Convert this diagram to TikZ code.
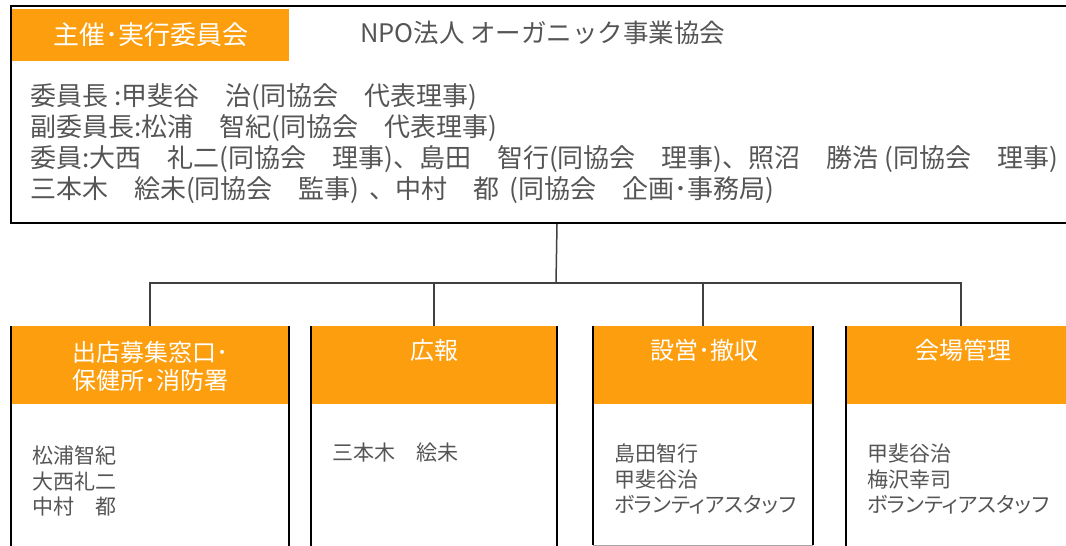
\documentclass[tikz,border=0pt]{standalone}
\usepackage{fontspec}
\setmainfont{Noto Sans CJK JP}
\newfontfamily\kanaprop[RawFeature=+palt]{Noto Sans CJK JP}
\definecolor{orng}{RGB}{253,158,14}
\definecolor{txt}{RGB}{85,85,85}
\definecolor{connc}{RGB}{64,64,64}
\tikzset{
  hdrbox/.style={fill=orng, inner sep=0pt, text=white},
  lbl/.style={text=txt, inner sep=0pt, anchor=west, font=\fontsize{26}{30}\selectfont},
  item/.style={text=txt, inner sep=0pt, anchor=west, align=left, font=\fontsize{21}{25.5}\selectfont},
  ttl/.style={text=white, inner sep=0pt, align=center, font=\fontsize{24}{28}\selectfont},
  frame/.style={draw=black, line width=1.6pt},
  conn/.style={draw=connc, line width=1.5pt},
  boxarea/.style={inner sep=0pt, anchor=north, minimum height=240pt},
}
\begin{document}
\begin{tikzpicture}[x=1pt,y=-1pt]
\useasboundingbox (0,0) rectangle (1066,546);
% top organisation box
\node[draw=black, line width=2pt, inner sep=0pt, anchor=north west, minimum width=1092pt, minimum height=217pt] (org) at (10,5) {};
\node[hdrbox, minimum width=277pt, minimum height=52pt, font=\fontsize{26}{30}\selectfont] (orghead) at (150.5,35) {主催･実行委員会};
\node[lbl, font=\fontsize{25.5}{30}\selectfont] (npo) at (360,33) {NPO法人 オーガニック事業協会};
\node[lbl] (l1) at (30,97) {委員長 :甲斐谷　治(同協会　代表理事)};
\node[lbl] (l2) at (30,128) {副委員長:松浦　智紀(同協会　代表理事)};
\node[lbl] (l3) at (30,159) {委員:大西　礼二(同協会　理事)、島田　智行(同協会　理事)、照沼　勝浩\hspace{6pt}(同協会　理事)};
\node[lbl] (l4) at (30,190) {三本木　絵未(同協会　監事)\hspace{10pt}、中村　都\hspace{10pt}(同協会　企画･事務局)};
% lower boxes
\node[boxarea, minimum width=278pt] (b1) at (150,326) {};
\node[boxarea, minimum width=246pt] (b2) at (434,326) {};
\node[boxarea, minimum width=220pt, minimum height=219pt] (b3) at (703,326) {};
\node[boxarea, minimum width=230pt] (b4) at (961,326) {};
% connectors
\coordinate (bus) at (556,283);
\draw[conn] (org.south) -- (bus);
\draw[conn] (b1.north) |- (bus) -| (b4.north);
\draw[conn] (b2.north) -- (b2.north |- bus);
\draw[conn] (b3.north) -- (b3.north |- bus);
% headers
\node[hdrbox, anchor=north, minimum width=278pt, minimum height=78pt] (h1) at (b1.north) {};
\node[hdrbox, anchor=north, minimum width=246pt, minimum height=78pt] (h2) at (b2.north) {};
\node[hdrbox, anchor=north, minimum width=220pt, minimum height=78pt] (h3) at (b3.north) {};
\node[hdrbox, anchor=north, minimum width=230pt, minimum height=78pt] (h4) at (b4.north) {};
% box frames
\draw[frame] (b1.north west) -- (b1.south west) (b1.north east) -- (b1.south east);
\draw[frame] (b2.north west) -- (b2.south west) (b2.north east) -- (b2.south east);
\draw[frame] (b3.north west) -- (b3.south west) (b3.north east) -- (b3.south east);
\draw[frame] (b4.north west) -- (b4.south west);
\draw[draw=black!35, line width=1pt] (b3.south west) -- (b3.south east);
% titles
\node[ttl] (t1) at (150,366) {出店募集窓口･\\保健所･消防署};
\node[ttl] (t2) at (434,350) {広報};
\node[ttl] (t3) at (704,350) {設営･撤収};
\node[ttl] (t4) at (963,350) {会場管理};
% members
\node[item] (m1) at (32,481) {松浦智紀\\大西礼二\\中村　都};
\node[item] (m2) at (332,453) {三本木　絵未};
\node[item] (m3) at (614,479) {島田智行\\甲斐谷治\\{\kanaprop ボランティアスタッフ}};
\node[item] (m4) at (867,479) {甲斐谷治\\梅沢幸司\\{\kanaprop ボランティアスタッフ}};
\end{tikzpicture}
\end{document}
